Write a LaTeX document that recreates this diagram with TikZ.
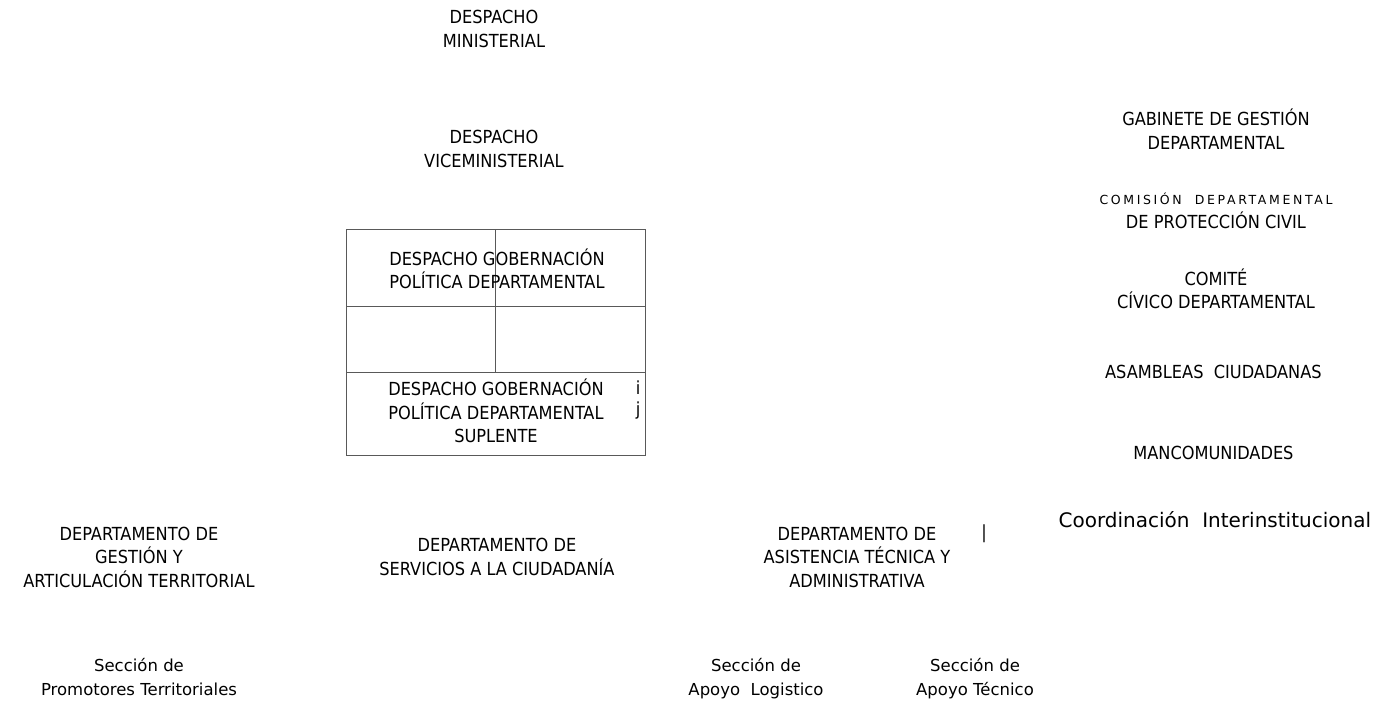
\documentclass[tikz,border=0pt]{standalone}
\usepackage{fontspec}
\setmainfont{DejaVu Sans Condensed}
\newfontfamily\widefont{DejaVu Sans}
\newfontfamily\spacedfont[LetterSpace=21]{DejaVu Sans}
\usetikzlibrary{positioning}

\tikzset{
  unit/.style = {align = center, inner sep = 0pt,
    font = \fontsize{18}{23.5}\selectfont},
  section/.style = {unit, font = \widefont\fontsize{16.5}{24}\selectfont},
  frame/.style = {draw = black!65, line width = 1pt}
}

\begin{document}
\begin{tikzpicture}[x = 1pt, y = -1pt]
  \useasboundingbox (0, 0) rectangle (1383, 706);

  % central column
  \node[unit] (DM) at (494, 29) {
    DESPACHO\\MINISTERIAL
  };

  \node[unit] (DV) at (494, 149) {
    DESPACHO\\VICEMINISTERIAL
  };

  % governorate box
  \coordinate (B1) at (346, 229);
  \coordinate (B2) at (645, 455);
  \coordinate (R1) at (346, 306);
  \coordinate (R2) at (346, 372);
  \coordinate (V1) at (495, 229);
  \coordinate (V2) at (495, 372);

  \draw[frame] (B1) rectangle (B2);
  \draw[frame] (R1) -- (R1 -| B2);
  \draw[frame] (R2) -- (R2 -| B2);
  \draw[frame] (V1) -- (V2);

  \node[unit] (GP) at (497, 269) {
    DESPACHO GOBERNACIÓN\\POLÍTICA DEPARTAMENTAL
  };

  \node[unit] (GS) at (496, 411) {
    DESPACHO GOBERNACIÓN\\POLÍTICA DEPARTAMENTAL\\SUPLENTE
  };

  \node[unit] (Mi) at (638, 388) {i};
  \node[unit] (Mj) at (638, 411) {j};

  % right column
  \node[unit] (GG) at (1216, 129) {
    GABINETE DE GESTIÓN\\DEPARTAMENTAL
  };

  \node[unit] (CP) at (1216, 211) {
    {\spacedfont\fontsize{12.5}{23.5}\selectfont COMISIÓN\ \ DEPARTAMENTAL}\\DE PROTECCIÓN CIVIL
  };

  \node[unit] (CC) at (1216, 289) {
    COMITÉ\\CÍVICO DEPARTAMENTAL
  };

  \node[unit] (AC) at (1216, 372) {
    ASAMBLEAS\ \ CIUDADANAS
  };

  \node[unit] (MC) at (1216, 453) {
    MANCOMUNIDADES
  };

  \node[unit, font = \widefont\fontsize{20}{23}\selectfont] (CI) at (1218, 520) {
    Coordinación\ \ Interinstitucional
  };

  % departments
  \node[unit] (DG) at (139, 557) {
    DEPARTAMENTO DE\\GESTIÓN Y\\ARTICULACIÓN TERRITORIAL
  };

  \node[unit] (DS) at (497, 557) {
    DEPARTAMENTO DE\\SERVICIOS A LA CIUDADANÍA
  };

  \node[unit] (DA) at (857, 557) {
    DEPARTAMENTO DE\\ASISTENCIA TÉCNICA Y\\ADMINISTRATIVA
  };

  \node[unit] (Mb) at (984, 534) {|};

  % sections
  \node[section] (SP) at (139, 677) {
    Sección de\\Promotores Territoriales
  };

  \node[section] (SL) at (756, 679) {
    Sección de\\Apoyo\ \ Logistico
  };

  \node[section] (ST) at (975, 679) {
    Sección de\\Apoyo Técnico
  };
\end{tikzpicture}
\end{document}
